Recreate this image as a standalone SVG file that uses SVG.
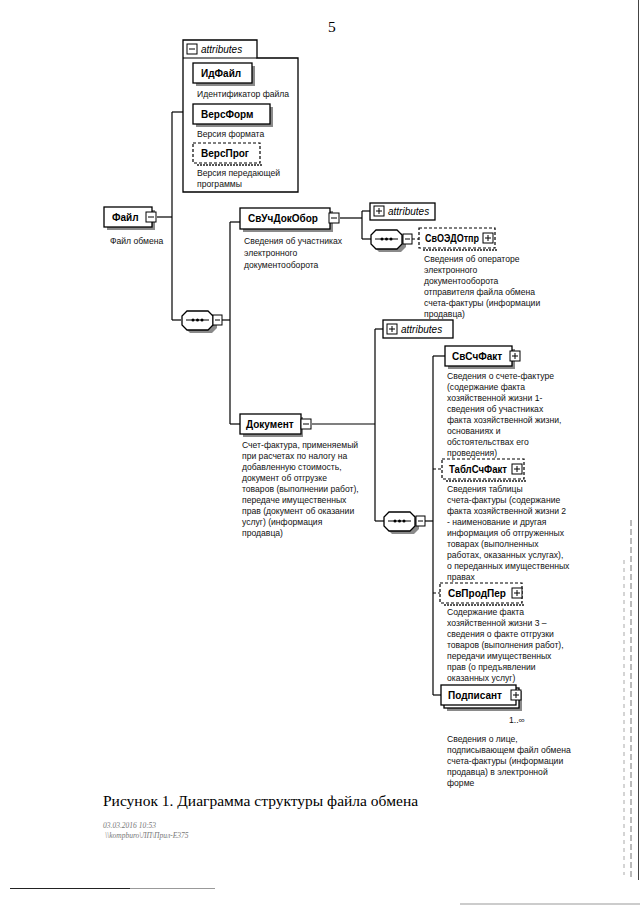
<svg xmlns="http://www.w3.org/2000/svg" width="640" height="905" viewBox="0 0 640 905">
<defs>
<style>
.bg{fill:#ffffff}
.box{fill:#ffffff;stroke:#000;stroke-width:1.3}
.opt{fill:#ffffff;stroke:#000;stroke-width:1.2;stroke-dasharray:3 2}
.sh{fill:#8a8a8a}
.hatch{stroke:#555;stroke-width:2;stroke-dasharray:2 1}
.ln{stroke:#000;stroke-width:1.2;fill:none}
.dln{stroke:#000;stroke-width:1.2;fill:none;stroke-dasharray:3 2}
.lbl{font-family:"Liberation Sans",Arial,sans-serif;font-weight:bold;font-size:10px;fill:#000}
.doc{font-family:"Liberation Sans","DejaVu Sans",sans-serif;font-size:8.6px;fill:#111}
.att{font-family:"Liberation Sans",sans-serif;font-style:italic;font-size:10px;fill:#000}
.ico{fill:#fff;stroke:#000;stroke-width:1}
.icl{stroke:#000;stroke-width:1}
.cap{font-family:"Liberation Serif",serif;font-size:15.5px;fill:#000}
.foot{font-family:"Liberation Serif",serif;font-style:italic;font-size:7.5px;fill:#777}
</style>
</defs>
<rect class="bg" x="0" y="0" width="640" height="905"/>
<text x="328" y="32" class="cap" font-size="13">5</text>

<g id="connectors">
<line class="ln" x1="157" y1="217" x2="172" y2="217"/>
<line class="ln" x1="172" y1="112" x2="172" y2="320"/>
<line class="ln" x1="172" y1="112" x2="183" y2="112"/>
<line class="ln" x1="172" y1="320" x2="181" y2="320"/>
<line class="ln" x1="222" y1="320" x2="230" y2="320"/>
<line class="ln" x1="230" y1="222" x2="230" y2="424"/>
<line class="ln" x1="230" y1="222" x2="240" y2="222"/>
<line class="ln" x1="230" y1="424" x2="240" y2="424"/>
<line class="ln" x1="340" y1="218" x2="362" y2="218"/>
<line class="ln" x1="362" y1="211" x2="362" y2="239"/>
<line class="ln" x1="362" y1="211" x2="370" y2="211"/>
<line class="ln" x1="362" y1="239" x2="371" y2="239"/>
<line class="dln" x1="412" y1="239" x2="419" y2="239"/>
<line class="ln" x1="312" y1="424" x2="375" y2="424"/>
<line class="ln" x1="375" y1="329" x2="375" y2="521"/>
<line class="ln" x1="375" y1="329" x2="383" y2="329"/>
<line class="ln" x1="375" y1="521" x2="384" y2="521"/>
<line class="ln" x1="425" y1="521" x2="433" y2="521"/>
<line class="ln" x1="433" y1="356" x2="433" y2="695"/>
<line class="ln" x1="433" y1="356" x2="445" y2="356"/>
<line class="dln" x1="433" y1="469" x2="442" y2="469"/>
<line class="dln" x1="433" y1="593" x2="440" y2="593"/>
<line class="ln" x1="433" y1="695" x2="441" y2="695"/>
</g>

<g id="attributes-file">
<path class="box" d="M183,40 H257 V58 H298 V192 H183 Z"/>
<line class="ln" x1="183" y1="58" x2="257" y2="58"/>
<rect class="ico" x="187" y="44" width="10" height="10"/>
<line class="icl" x1="189" y1="49" x2="195" y2="49"/>
<text x="201" y="53" class="att">attributes</text>
</g>

<g id="node-IdFile">
<rect class="sh" x="196" y="66" width="59" height="20"/>
<rect class="box" x="193" y="63" width="59" height="20"/>
<text x="201" y="77" class="lbl">ИдФайл</text>
<text x="197" y="97" class="doc">Идентификатор файла</text>
</g>

<g id="node-VersForm">
<rect class="sh" x="196" y="107" width="77" height="20"/>
<rect class="box" x="193" y="104" width="77" height="20"/>
<text x="201" y="118" class="lbl">ВерсФорм</text>
<text x="197" y="137" class="doc">Версия формата</text>
</g>

<g id="node-VersProg">
<line class="hatch" x1="197" y1="165" x2="262" y2="165"/>
<rect class="opt" x="193" y="143" width="67" height="20"/>
<text x="201" y="157" class="lbl">ВерсПрог</text>
<text x="197" y="176" class="doc">Версия передающей</text>
<text x="197" y="187" class="doc">программы</text>
</g>

<g id="node-File">
<rect class="sh" x="107" y="210" width="48" height="20"/>
<rect class="box" x="104" y="207" width="48" height="20"/>
<text x="112" y="221" class="lbl">Файл</text>
<rect class="ico" x="146" y="212" width="10" height="10"/>
<line class="icl" x1="148" y1="217" x2="154" y2="217"/>
<text x="110" y="244" class="doc">Файл обмена</text>
</g>

<g id="seq-1">
<path class="sh" d="M190,314 H212 L217,319 V328 L212,333 H190 L185,328 V319 Z"/>
<path class="box" d="M187,311 H208 L213,316 V325 L208,330 H187 L182,325 V316 Z"/>
<line class="icl" x1="186" y1="320" x2="209" y2="320"/>
<circle cx="193" cy="320" r="1.5"/><circle cx="197.5" cy="320" r="1.5"/><circle cx="202" cy="320" r="1.5"/>
<rect class="ico" x="213" y="315" width="9" height="10"/>
<line class="icl" x1="215" y1="320" x2="220" y2="320"/>
</g>

<g id="node-SvUchDokObor">
<rect class="sh" x="243" y="211" width="90" height="21"/>
<rect class="box" x="240" y="208" width="90" height="21"/>
<text x="248" y="222" class="lbl">СвУчДокОбор</text>
<rect class="ico" x="329" y="213" width="10" height="10"/>
<line class="icl" x1="331" y1="218" x2="337" y2="218"/>
<text x="244" y="244" class="doc">Сведения об участниках</text>
<text x="244" y="256" class="doc">электронного</text>
<text x="244" y="268" class="doc">документооборота</text>
</g>

<g id="attributes-SvUchDokObor">
<rect class="box" x="370" y="203" width="65" height="17"/>
<rect class="ico" x="374" y="206" width="10" height="10"/>
<line class="icl" x1="376" y1="211" x2="382" y2="211"/>
<line class="icl" x1="379" y1="208" x2="379" y2="214"/>
<text x="388" y="215" class="att">attributes</text>
</g>

<g id="seq-2">
<path class="sh" d="M379,233 H401 L406,238 V247 L401,252 H379 L374,247 V238 Z"/>
<path class="box" d="M376,230 H397 L402,235 V244 L397,249 H376 L371,244 V235 Z"/>
<line class="icl" x1="375" y1="239" x2="398" y2="239"/>
<circle cx="382" cy="239" r="1.5"/><circle cx="386.5" cy="239" r="1.5"/><circle cx="391" cy="239" r="1.5"/>
<rect class="ico" x="403" y="234" width="9" height="10"/>
<line class="icl" x1="405" y1="239" x2="410" y2="239"/>
</g>

<g id="node-SvOEDOtpr">
<line class="hatch" x1="423" y1="250" x2="497" y2="250"/>
<rect class="opt" x="419" y="228" width="76" height="20"/>
<text x="425" y="242" class="lbl" textLength="54" lengthAdjust="spacingAndGlyphs">СвОЭДОтпр</text>
<rect class="ico" x="483" y="233" width="10" height="10"/>
<line class="icl" x1="485" y1="238" x2="491" y2="238"/>
<line class="icl" x1="488" y1="235" x2="488" y2="241"/>
<text x="424" y="262" class="doc">Сведения об операторе</text>
<text x="424" y="273" class="doc">электронного</text>
<text x="424" y="284" class="doc">документооборота</text>
<text x="424" y="295" class="doc">отправителя файла обмена</text>
<text x="424" y="306" class="doc">счета-фактуры (информации</text>
<text x="424" y="317" class="doc">продавца)</text>
</g>

<g id="node-Dokument">
<rect class="sh" x="243" y="417" width="60" height="20"/>
<rect class="box" x="240" y="414" width="61" height="20"/>
<text x="246" y="428" class="lbl">Документ</text>
<rect class="ico" x="301" y="419" width="10" height="10"/>
<line class="icl" x1="303" y1="424" x2="309" y2="424"/>
<text x="242" y="448" class="doc">Счет-фактура, применяемый</text>
<text x="242" y="459" class="doc">при расчетах по налогу на</text>
<text x="242" y="470" class="doc">добавленную стоимость,</text>
<text x="242" y="481" class="doc">документ об отгрузке</text>
<text x="242" y="492" class="doc">товаров (выполнении работ),</text>
<text x="242" y="503" class="doc">передаче имущественных</text>
<text x="242" y="514" class="doc">прав (документ об оказании</text>
<text x="242" y="525" class="doc">услуг) (информация</text>
<text x="242" y="536" class="doc">продавца)</text>
</g>

<g id="attributes-Dokument">
<rect class="box" x="383" y="320" width="70" height="18"/>
<rect class="ico" x="387" y="324" width="10" height="10"/>
<line class="icl" x1="389" y1="329" x2="395" y2="329"/>
<line class="icl" x1="392" y1="326" x2="392" y2="332"/>
<text x="401" y="333" class="att">attributes</text>
</g>

<g id="seq-3">
<path class="sh" d="M392,515 H414 L419,520 V529 L414,534 H392 L387,529 V520 Z"/>
<path class="box" d="M389,512 H410 L415,517 V526 L410,531 H389 L384,526 V517 Z"/>
<line class="icl" x1="388" y1="521" x2="411" y2="521"/>
<circle cx="395" cy="521" r="1.5"/><circle cx="399.5" cy="521" r="1.5"/><circle cx="404" cy="521" r="1.5"/>
<rect class="ico" x="416" y="516" width="9" height="10"/>
<line class="icl" x1="418" y1="521" x2="423" y2="521"/>
</g>

<g id="node-SvSchFakt">
<rect class="sh" x="448" y="349" width="67" height="20"/>
<rect class="box" x="445" y="346" width="67" height="20"/>
<text x="452" y="360" class="lbl">СвСчФакт</text>
<rect class="ico" x="510" y="351" width="10" height="10"/>
<line class="icl" x1="512" y1="356" x2="518" y2="356"/>
<line class="icl" x1="515" y1="353" x2="515" y2="359"/>
<text x="447" y="379" class="doc">Сведения о счете-фактуре</text>
<text x="447" y="390" class="doc">(содержание факта</text>
<text x="447" y="401" class="doc">хозяйственной жизни 1-</text>
<text x="447" y="412" class="doc">сведения об участниках</text>
<text x="447" y="423" class="doc">факта хозяйственной жизни,</text>
<text x="447" y="434" class="doc">основаниях и</text>
<text x="447" y="445" class="doc">обстоятельствах его</text>
<text x="447" y="456" class="doc">проведения)</text>
</g>

<g id="node-TablSchFakt">
<line class="hatch" x1="446" y1="481" x2="526" y2="481"/>
<rect class="opt" x="442" y="459" width="82" height="20"/>
<text x="449" y="473" class="lbl" textLength="58" lengthAdjust="spacingAndGlyphs">ТаблСчФакт</text>
<rect class="ico" x="512" y="464" width="10" height="10"/>
<line class="icl" x1="514" y1="469" x2="520" y2="469"/>
<line class="icl" x1="517" y1="466" x2="517" y2="472"/>
<text x="447" y="492" class="doc">Сведения таблицы</text>
<text x="447" y="503" class="doc">счета-фактуры (содержание</text>
<text x="447" y="514" class="doc">факта хозяйственной жизни 2</text>
<text x="447" y="525" class="doc">- наименование и другая</text>
<text x="447" y="536" class="doc">информация об отгруженных</text>
<text x="447" y="547" class="doc">товарах (выполненных</text>
<text x="447" y="558" class="doc">работах, оказанных услугах),</text>
<text x="447" y="569" class="doc">о переданных имущественных</text>
<text x="447" y="580" class="doc">правах</text>
</g>

<g id="node-SvProdPer">
<line class="hatch" x1="444" y1="605" x2="524" y2="605"/>
<rect class="opt" x="440" y="583" width="82" height="20"/>
<text x="448" y="597" class="lbl">СвПродПер</text>
<rect class="ico" x="512" y="588" width="10" height="10"/>
<line class="icl" x1="514" y1="593" x2="520" y2="593"/>
<line class="icl" x1="517" y1="590" x2="517" y2="596"/>
<text x="447" y="615" class="doc">Содержание факта</text>
<text x="447" y="626" class="doc">хозяйственной жизни 3 –</text>
<text x="447" y="637" class="doc">сведения о факте отгрузки</text>
<text x="447" y="648" class="doc">товаров (выполнения работ),</text>
<text x="447" y="659" class="doc">передачи имущественных</text>
<text x="447" y="670" class="doc">прав (о предъявлении</text>
<text x="447" y="681" class="doc">оказанных услуг)</text>
</g>

<g id="node-Podpisant">
<rect class="sh" x="447" y="691" width="75" height="20"/>
<rect class="box" x="444" y="688" width="75" height="20"/>
<rect class="box" x="441" y="685" width="75" height="20"/>
<text x="448" y="699" class="lbl">Подписант</text>
<rect class="ico" x="511" y="690" width="10" height="10"/>
<line class="icl" x1="513" y1="695" x2="519" y2="695"/>
<line class="icl" x1="516" y1="692" x2="516" y2="698"/>
<text x="509" y="723" class="doc">1..∞</text>
<text x="447" y="742" class="doc">Сведения о лице,</text>
<text x="447" y="753" class="doc">подписывающем файл обмена</text>
<text x="447" y="764" class="doc">счета-фактуры (информации</text>
<text x="447" y="775" class="doc">продавца) в электронной</text>
<text x="447" y="786" class="doc">форме</text>
</g>

<text x="103" y="806" class="cap">Рисунок 1. Диаграмма структуры файла обмена</text>
<text x="103" y="828" class="foot">03.03.2016 10:53</text>
<text x="105" y="838" class="foot">\\kompburo\ЛП\Прил-Е375</text>

<line x1="10" y1="888.5" x2="130" y2="888.5" stroke="#222" stroke-width="1"/>
<line x1="130" y1="888.5" x2="215" y2="888.5" stroke="#999" stroke-width="1"/>
<line x1="460" y1="904" x2="640" y2="904" stroke="#999" stroke-width="1"/>
<line x1="638.5" y1="0" x2="638.5" y2="880" stroke="#444" stroke-width="1"/>
<line x1="631" y1="520" x2="631" y2="880" stroke="#777" stroke-width="1" stroke-dasharray="6 3"/>
<line x1="624" y1="560" x2="624" y2="875" stroke="#aaa" stroke-width="1" stroke-dasharray="4 4"/>
</svg>
